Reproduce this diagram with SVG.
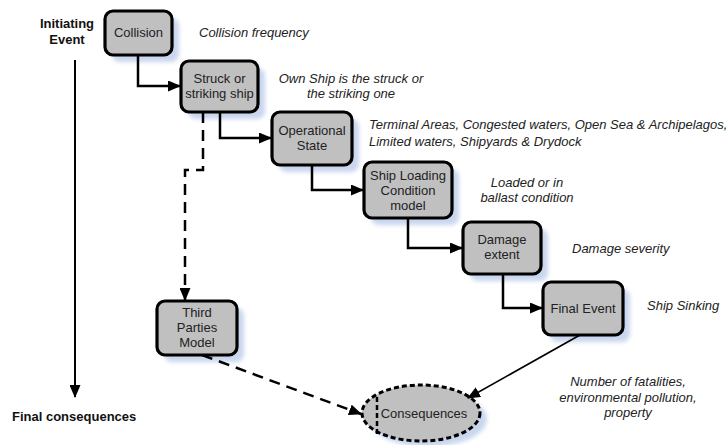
<svg xmlns="http://www.w3.org/2000/svg" width="728" height="445" viewBox="0 0 728 445">
<defs>
<filter id="blur" x="-20%" y="-20%" width="140%" height="140%"><feGaussianBlur stdDeviation="2"/></filter>
<marker id="ah" markerUnits="userSpaceOnUse" markerWidth="13" markerHeight="11" refX="12" refY="5.5" orient="auto"><path d="M0,0 L13,5.5 L0,11 Z" fill="#000"/></marker>
</defs>
<style>
.box{fill:#c0c0c0;stroke:#000;stroke-width:3.2}
.shadow{fill:#c8d6ee;filter:url(#blur)}
.nt{font-family:"Liberation Sans",Arial,sans-serif;font-size:13px;fill:#222;text-anchor:middle}
.an{font-family:"Liberation Sans",Arial,sans-serif;font-size:13px;font-style:italic;fill:#222}
.lb{font-family:"Liberation Sans",Arial,sans-serif;font-size:13px;font-weight:bold;fill:#111}
.c{fill:none;stroke:#000;stroke-width:2.5}
.d{fill:none;stroke:#000;stroke-width:2.5;stroke-dasharray:11 7}
</style>
<rect width="728" height="445" fill="#fff"/>

<g id="axis">
<path d="M75,60 V397" fill="none" stroke="#000" stroke-width="2" marker-end="url(#ah)"/>
<text class="lb" x="67" y="28" text-anchor="middle">Initiating</text>
<text class="lb" x="67" y="44" text-anchor="middle">Event</text>
<text class="lb" x="12" y="421">Final consequences</text>
</g>

<g id="collision">
<rect class="shadow" x="112" y="18" width="67" height="44" rx="8"/>
<rect class="box" x="105" y="11" width="67" height="44" rx="8"/>
<text class="nt" x="138.5" y="37">Collision</text>
</g>
<g id="struck">
<rect class="shadow" x="188" y="68" width="77" height="51" rx="8"/>
<rect class="box" x="181" y="61" width="77" height="51" rx="8"/>
<text class="nt" x="219.5" y="83">Struck or</text>
<text class="nt" x="219.5" y="98">striking ship</text>
</g>
<g id="operational">
<rect class="shadow" x="279" y="119" width="80" height="53" rx="8"/>
<rect class="box" x="272" y="112" width="80" height="53" rx="8"/>
<text class="nt" x="312" y="135">Operational</text>
<text class="nt" x="312" y="150">State</text>
</g>
<g id="shiploading">
<rect class="shadow" x="371" y="169" width="88" height="56" rx="8"/>
<rect class="box" x="364" y="162" width="88" height="56" rx="8"/>
<text class="nt" x="408" y="180">Ship Loading</text>
<text class="nt" x="408" y="195">Condition</text>
<text class="nt" x="408" y="210">model</text>
</g>
<g id="damage">
<rect class="shadow" x="470" y="229" width="78" height="52" rx="8"/>
<rect class="box" x="463" y="222" width="78" height="52" rx="8"/>
<text class="nt" x="502" y="244">Damage</text>
<text class="nt" x="502" y="259">extent</text>
</g>
<g id="finalevent">
<rect class="shadow" x="550" y="289" width="80" height="53" rx="8"/>
<rect class="box" x="543" y="282" width="80" height="53" rx="8"/>
<text class="nt" x="583" y="313">Final Event</text>
</g>
<g id="thirdparties">
<rect class="shadow" x="164" y="308" width="80" height="54" rx="8"/>
<rect class="box" x="157" y="301" width="80" height="54" rx="8"/>
<text class="nt" x="197" y="317">Third</text>
<text class="nt" x="197" y="332">Parties</text>
<text class="nt" x="197" y="347">Model</text>
</g>
<g id="consequences">
<ellipse cx="428" cy="419" rx="59" ry="28" fill="#c8d6ee" filter="url(#blur)"/>
<ellipse cx="421" cy="413" rx="59" ry="28" fill="#c0c0c0" stroke="#000" stroke-width="3" stroke-dasharray="5 3"/>
<path d="M377,397 V437" fill="none" stroke="#000" stroke-width="2.5" stroke-dasharray="5 3"/>
<text class="nt" x="424" y="418">Consequences</text>
</g>

<g id="connectors">
<path class="c" d="M138,55 V86 H180" marker-end="url(#ah)"/>
<path class="c" d="M220,112 V138 H271" marker-end="url(#ah)"/>
<path class="c" d="M312,165 V190 H363" marker-end="url(#ah)"/>
<path class="c" d="M408,218 V248 H462" marker-end="url(#ah)"/>
<path class="c" d="M503,274 V308 H542" marker-end="url(#ah)"/>
<path d="M580,335 L468,398" fill="none" stroke="#000" stroke-width="1.6" marker-end="url(#ah)"/>
<path class="d" d="M203,112 V170 H185 V300" marker-end="url(#ah)"/>
<path class="d" d="M202,355 L361,414" marker-end="url(#ah)"/>
</g>

<g id="annotations">
<text class="an" x="199" y="37">Collision frequency</text>
<text class="an" x="351" y="83" text-anchor="middle">Own Ship is the struck or</text>
<text class="an" x="351" y="98" text-anchor="middle">the striking one</text>
<text class="an" x="369" y="129">Terminal Areas, Congested waters, Open Sea &amp; Archipelagos,</text>
<text class="an" x="369" y="146">Limited waters, Shipyards &amp; Drydock</text>
<text class="an" x="527" y="187" text-anchor="middle">Loaded or in</text>
<text class="an" x="527" y="202" text-anchor="middle">ballast condition</text>
<text class="an" x="572" y="253">Damage severity</text>
<text class="an" x="647" y="310">Ship Sinking</text>
<text class="an" x="628" y="386" text-anchor="middle">Number of fatalities,</text>
<text class="an" x="628" y="402" text-anchor="middle">environmental pollution,</text>
<text class="an" x="628" y="417" text-anchor="middle">property</text>
</g>
</svg>
